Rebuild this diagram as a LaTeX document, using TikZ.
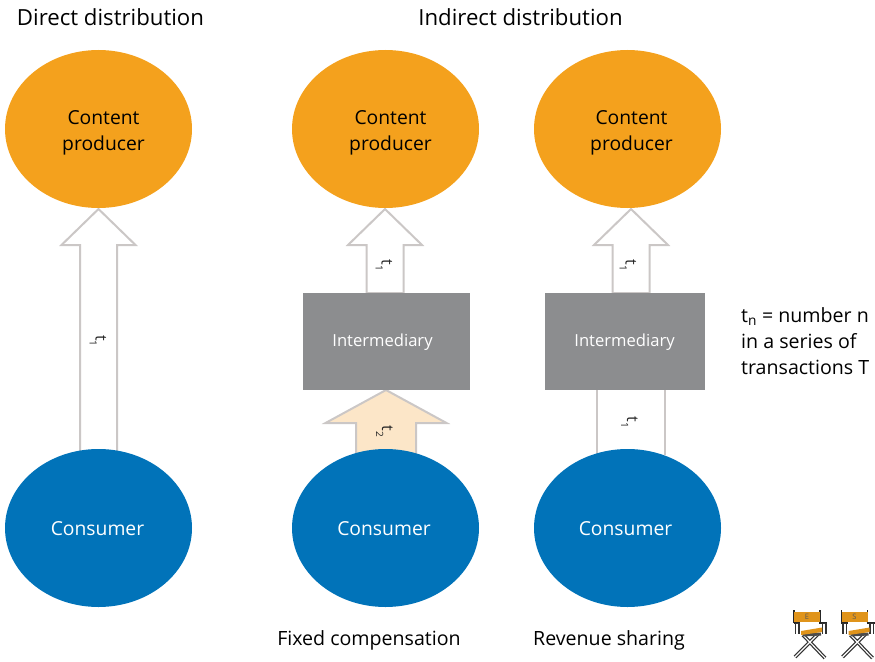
\documentclass[tikz,border=0pt]{standalone}
\usepackage{fontspec}
\setmainfont{Open Sans}
\usetikzlibrary{shapes.geometric,backgrounds,calc}
\definecolor{prod}{HTML}{F4A11D}
\definecolor{cons}{HTML}{0173B9}
\definecolor{inter}{HTML}{8C8D8F}
\definecolor{edge}{HTML}{CBC7C6}
\definecolor{cream}{HTML}{FCE6C8}
\tikzset{
  lab/.style={font=\fontsize{19.6}{24}\selectfont,inner sep=0pt},
  title/.style={font=\fontsize{22.2}{26}\selectfont,inner sep=0pt},
  party/.style={ellipse,minimum width=187pt,minimum height=158pt,inner sep=0pt},
  partytext/.style={align=center,inner sep=0pt,font=\fontsize{19.3}{26}\selectfont},
  producer/.style={party,fill=prod},
  consumer/.style={party,fill=cons},
  interbox/.style={rectangle,fill=inter,minimum width=167pt,minimum height=97pt,inner sep=0pt},
  intertext/.style={text=white,inner sep=0pt,font=\fontsize{16.6}{20}\selectfont},
  blockarrow/.style={draw=edge,line width=2pt,line join=miter,fill=white},
  tlabel/.style={rotate=-90,inner sep=0pt,font=\fontsize{16}{20}\selectfont,text=black!85},
  chairorange/.style={fill=prod!92!black,draw=none},
  chairleg/.style={draw=black!80,line width=3.6pt},
  chairlegin/.style={draw=white,line width=1.1pt},
  chairline/.style={draw=black!85,line width=1.2pt},
}
\newcommand{\arrowshape}[6]{%
  \draw[blockarrow,#6] (#1) -- ($(#1)+(#3,#4)$) -- ($(#1)+(#5,#4)$) -- ($(#2)+(#5,0)$) -- ($(#2)+(-#5,0)$) -- ($(#1)+(-#5,#4)$) -- ($(#1)+(-#3,#4)$) -- cycle;
}
\newcommand{\tsub}[1]{t\raisebox{-6pt}{\fontsize{10}{10}\selectfont #1}}
\newcommand{\chair}[3]{%
  \begin{scope}[shift={(#1,#2)}]
    \draw[chairleg] (9,25) -- (31,48) (24,24) -- (1,47);
    \draw[chairlegin] (9,25) -- (31,48) (24,24) -- (1,47);
    \draw[chairline] (0,0) -- (0,13) (26,0) -- (26,13);
    \draw[chairline] (-0.5,13) -- (6,13) (25,13) -- (33,13);
    \draw[chairleg,line width=5pt] (3,13) -- (3,24) (30,13) -- (30,24);
    \draw[chairlegin,line width=2pt] (3,13.5) -- (3,24) (30,13.5) -- (30,24);
    \draw[black!70,line width=3pt] (9,25) -- (27,24);
    \path[chairorange] (7,21) -- (28,17.5) -- (28,22) -- (7,25) -- cycle;
    \node[chairorange,minimum width=26pt,minimum height=10pt,inner sep=0pt,text=black!65,font=\fontsize{7.5}{8}\selectfont] at (13,7) {#3};
  \end{scope}
}
\begin{document}
\begin{tikzpicture}[x=1pt,y=-1pt]
\useasboundingbox (0,0) rectangle (875,661);
\node[title] (t1) at (110.5,17) {Direct distribution};
\node[title] (t2) at (520.5,17) {Indirect distribution};
\node[producer] (p1) at (98.5,129) {};
\node[producer] (p2) at (385.5,129) {};
\node[producer] (p3) at (627.5,129) {};
\node[partytext] (pt1) at (103.5,133) {Content\\producer};
\node[partytext] (pt2) at (390.5,133) {Content\\producer};
\node[partytext] (pt3) at (631.5,133) {Content\\producer};
\node[consumer] (c1) at (98.5,528) {};
\node[consumer] (c2) at (385.5,528) {};
\node[consumer] (c3) at (627.5,528) {};
\node[partytext,text=white] (ct1) at (97.5,528.5) {Consumer};
\node[partytext,text=white] (ct2) at (384,528.5) {Consumer};
\node[partytext,text=white] (ct3) at (625.5,528.5) {Consumer};
\node[interbox] (i2) at (386,341.5) {};
\node[interbox,minimum width=160pt] (i3) at (624.5,341.5) {};
\node[intertext] (it2) at (382.5,342.5) {Intermediary};
\node[intertext] (it3) at (624.5,342.5) {Intermediary};
\coordinate (a1t) at (98.5,209);
\coordinate (a1b) at (98.5,455);
\coordinate (a2t) at (385,209);
\coordinate (a2b) at (385,293);
\coordinate (a3t) at (631,209);
\coordinate (a3b) at (631,293);
\coordinate (a4t) at (386,390);
\coordinate (a4b) at (386,455);
\coordinate (a5t) at (631,390);
\coordinate (a5b) at (631,455);
\begin{scope}[on background layer]
\arrowshape{a1t}{a1b}{37}{36}{18.5}{}
\arrowshape{a2t}{a2b}{37}{36}{18.5}{}
\arrowshape{a3t}{a3b}{37}{36}{18.5}{}
\arrowshape{a4t}{a4b}{60.5}{33}{30}{fill=cream}
\draw[blockarrow] ($(a5t)+(-34,0)$) -- ($(a5b)+(-34,0)$) ($(a5t)+(34,0)$) -- ($(a5b)+(34,0)$);
\end{scope}
\node[tlabel] (n1) at (98,341) {\tsub{1}};
\node[tlabel] (n2) at (384,265.5) {\tsub{1}};
\node[tlabel] (n3) at (628,265.5) {\tsub{1}};
\node[tlabel] (n4) at (384.5,431.5) {\tsub{2}};
\node[tlabel] (n5) at (629.5,422.5) {\tsub{1}};
\node[lab,anchor=north west,align=left,font=\fontsize{19.6}{26}\selectfont] (note) at (741,307) {t\textsubscript{n} = number n\\in a series of\\transactions T};
\node[lab] (f) at (369,640) {Fixed compensation};
\node[lab] (r) at (609,640) {Revenue sharing};
\chair{794}{610}{E}
\chair{841.5}{610}{S}
\end{tikzpicture}
\end{document}
